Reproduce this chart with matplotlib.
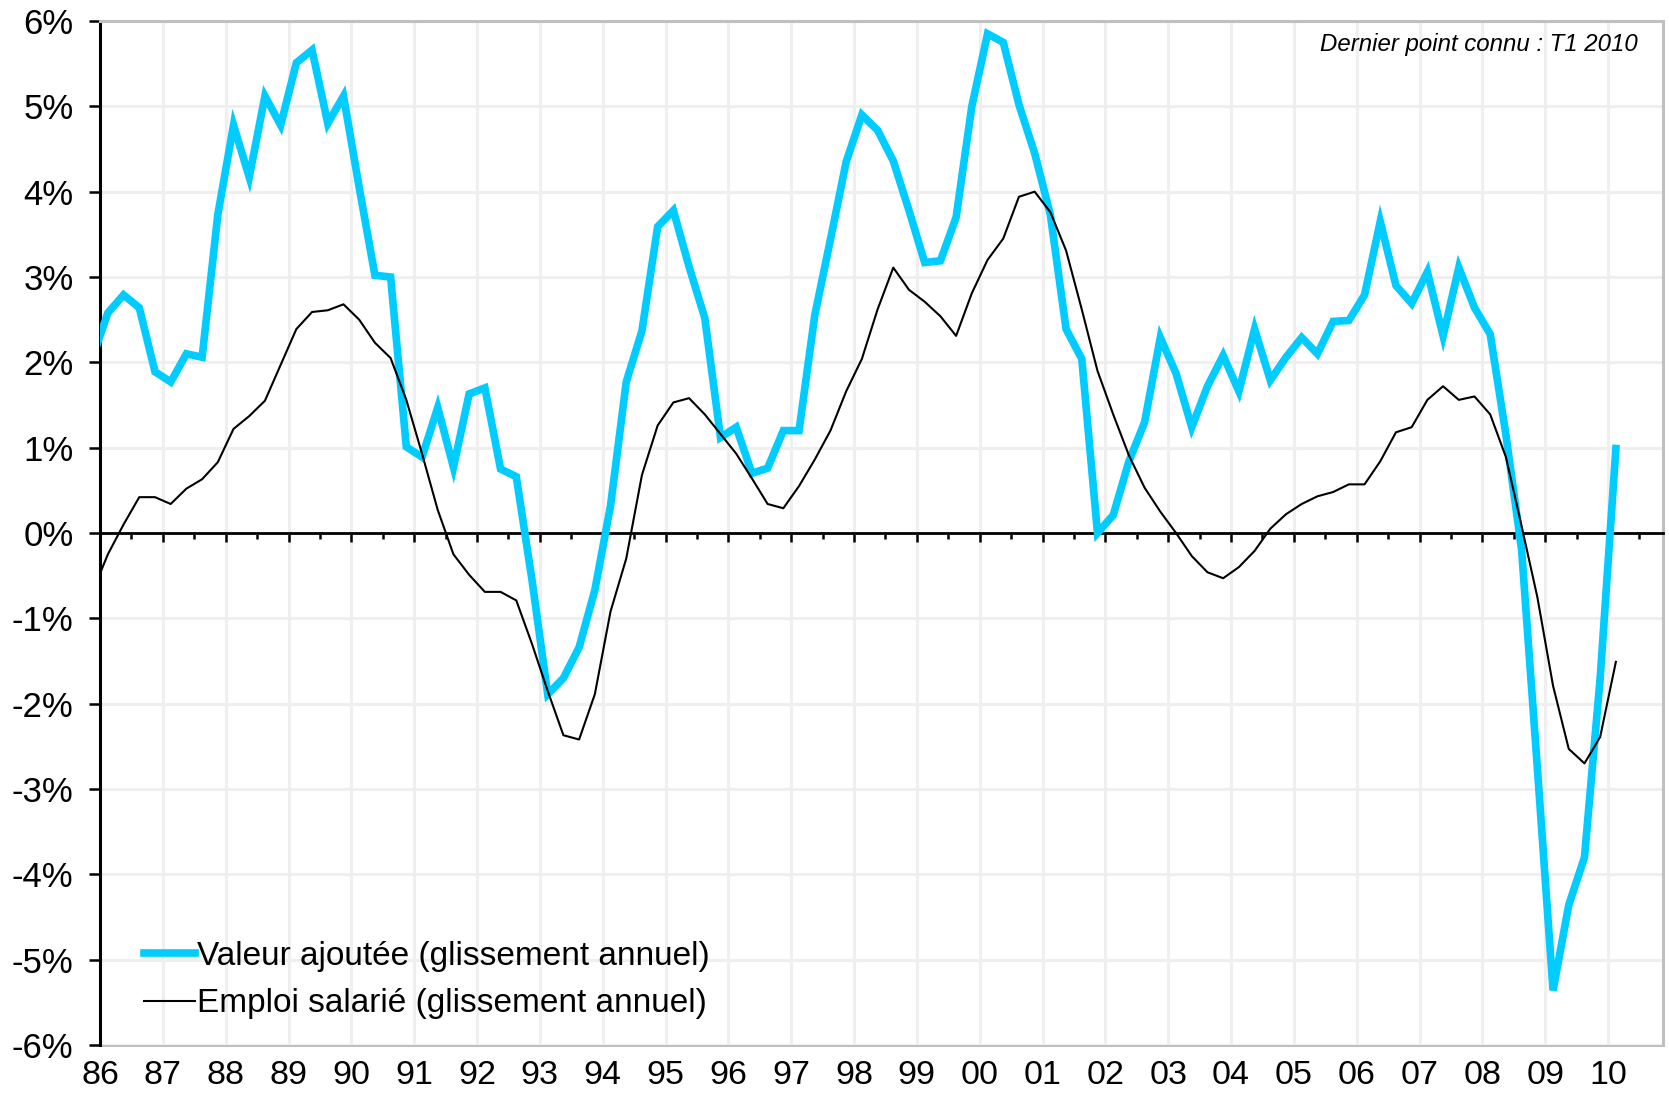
import numpy as np
import matplotlib
matplotlib.use("Agg")
import matplotlib.pyplot as plt
from matplotlib.ticker import MultipleLocator, FixedLocator

plt.rcParams['font.family'] = ['Liberation Sans', 'DejaVu Sans']

# quarterly year-on-year growth, %, from 1985 T4 to 2010 T1
valeur_ajoutee = [
    2.04,
    2.58, 2.79, 2.64, 1.89,  1.77, 2.10, 2.06, 3.73,  4.78, 4.17, 5.12, 4.78,
    5.51, 5.66, 4.80, 5.12,  4.05, 3.02, 3.00, 1.01,  0.89, 1.47, 0.77, 1.63,
    1.70, 0.75, 0.66, -0.55, -1.89, -1.70, -1.34, -0.67,  0.32, 1.77, 2.37, 3.59,
    3.78, 3.12, 2.52, 1.12,  1.24, 0.70, 0.76, 1.20,  1.20, 2.55, 3.44, 4.35,
    4.90, 4.72, 4.36, 3.78,  3.17, 3.19, 3.70, 5.00,  5.85, 5.75, 5.02, 4.45,
    3.73, 2.39, 2.04, 0.00,  0.21, 0.84, 1.30, 2.29,  1.87, 1.24, 1.72, 2.08,
    1.66, 2.39, 1.79, 2.06,  2.29, 2.10, 2.48, 2.49,  2.79, 3.65, 2.90, 2.69,
    3.06, 2.31, 3.11, 2.64,  2.33, 1.15, -0.20, -2.75,  -5.36, -4.36, -3.80, -1.70,
    0.99,
]
emploi_salarie = [
    -0.70,
    -0.25, 0.10, 0.42, 0.42,  0.34, 0.52, 0.63, 0.83,  1.22, 1.37, 1.55, 1.97,
    2.39, 2.59, 2.61, 2.68,  2.50, 2.23, 2.05, 1.56,  0.93, 0.27, -0.25, -0.49,
    -0.69, -0.69, -0.79, -1.30,  -1.85, -2.37, -2.42, -1.89,  -0.92, -0.30, 0.68, 1.26,
    1.53, 1.58, 1.39, 1.16,  0.93, 0.64, 0.34, 0.29,  0.55, 0.86, 1.20, 1.66,
    2.04, 2.62, 3.11, 2.85,  2.71, 2.54, 2.31, 2.81,  3.20, 3.45, 3.94, 4.00,
    3.76, 3.31, 2.62, 1.90,  1.39, 0.91, 0.53, 0.25,  0.00, -0.27, -0.46, -0.53,
    -0.40, -0.21, 0.05, 0.22,  0.34, 0.43, 0.48, 0.57,  0.57, 0.84, 1.18, 1.24,
    1.56, 1.72, 1.56, 1.60,  1.39, 0.89, 0.08, -0.75,  -1.79, -2.53, -2.70, -2.39,
    -1.51,
]
annees = list(range(1986, 2011))
etiquettes_annees = [str(a)[2:] for a in annees]
graduations_y = list(range(-6, 7))
etiquettes_y = [f"{v}%" for v in graduations_y]
nom_va = "Valeur ajoutée (glissement annuel)"
nom_emploi = "Emploi salarié (glissement annuel)"
note = "Dernier point connu : T1 2010"

# quarter midpoints, first point is 1985 T4
x = 1985.875 + 0.25 * np.arange(len(valeur_ajoutee))

fig = plt.figure(figsize=(16.69, 10.98), dpi=100)
ax = fig.add_axes([100 / 1669, 1 - 1045 / 1098, 1563 / 1669, 1024 / 1098])

ax.plot(x, valeur_ajoutee, color='#00CCFF', lw=5.5, zorder=4, label=nom_va,
        solid_joinstyle='miter')
ax.plot(x, emploi_salarie, color='black', lw=1.5, zorder=5, label=nom_emploi)

ax.set_xlim(1986, 2010.875)
ax.set_ylim(-6, 6)

ax.xaxis.set_major_locator(FixedLocator(annees))
ax.xaxis.set_minor_locator(MultipleLocator(0.5))
ax.set_yticks(graduations_y)
ax.set_yticklabels(etiquettes_y)
ax.grid(True, which='major', color='#efefef', lw=2.2, zorder=0)
ax.set_axisbelow(True)

# axis line through 0 with the quarter ticks
ax.spines['bottom'].set_position(('data', 0))
ax.spines['bottom'].set_color('black')
ax.spines['bottom'].set_linewidth(2.0)
ax.spines['bottom'].set_zorder(3)
ax.tick_params(axis='x', which='major', direction='out', length=6.5, width=1.8,
               labelbottom=False)
ax.tick_params(axis='x', which='minor', direction='out', length=4.3, width=1.8)

ax.spines['left'].set_color('black')
ax.spines['left'].set_linewidth(2.2)
for s in ('top', 'right'):
    ax.spines[s].set_color('#c0c0c0')
    ax.spines[s].set_linewidth(2.2)
ax.tick_params(axis='y', direction='out', length=8, width=1.8, pad=11, labelsize=25)

# year labels along the bottom of the frame
sec = ax.secondary_xaxis('bottom')
sec.set_xticks(annees)
sec.set_xticklabels(etiquettes_annees)
sec.tick_params(length=0, pad=11, labelsize=24.5)
sec.spines['bottom'].set_color('#c0c0c0')
sec.spines['bottom'].set_linewidth(2.2)

ax.text(0.984, 0.977, note, transform=ax.transAxes, ha='right', va='center',
        fontsize=17.3, style='italic')

ax.legend(loc='lower left', bbox_to_anchor=(0.028, 0.025), frameon=False,
          fontsize=24, handlelength=1.55, handletextpad=0.05, borderpad=0,
          borderaxespad=0, labelspacing=0.5)

fig.savefig('out.png', dpi=100)
